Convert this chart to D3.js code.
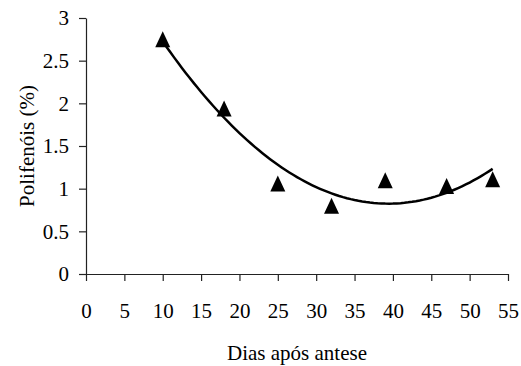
<!DOCTYPE html>
<html>
<head>
<meta charset="utf-8">
<script src="https://cdn.jsdelivr.net/npm/d3@7"></script>
<style>
  body { margin: 0; background: #fff; }
</style>
</head>
<body>
<svg id="chart" width="521" height="366"></svg>
<script>
// data
const dias = [10, 18, 25, 32, 39, 47, 53]
const polifenois = [2.75, 1.94, 1.06, 0.80, 1.10, 1.03, 1.11]
const xTicks = [0, 5, 10, 15, 20, 25, 30, 35, 40, 45, 50, 55]
const yTicks = [0, 0.5, 1, 1.5, 2, 2.5, 3]
const xTitle = 'Dias após antese'
const yTitle = 'Polifenóis (%)'

const svg = d3.select('#chart')
const fontSize = 21
const serif = "'Liberation Serif', 'Times New Roman', Times, serif"

const x = d3.scaleLinear().domain([0, 55]).range([86, 508])
const y = d3.scaleLinear().domain([0, 3]).range([274, 18])

// y axis
const yAxis = svg.append('g')
  .attr('transform', `translate(${x(0)},0)`)
  .call(d3.axisLeft(y).tickValues(yTicks).tickFormat(d3.format('')).tickSize(7).tickSizeOuter(0).tickPadding(10))

// x axis
const xAxis = svg.append('g')
  .attr('transform', `translate(0,${y(0)})`)
  .call(d3.axisBottom(x).tickValues(xTicks).tickFormat(d3.format('')).tickSize(7).tickSizeOuter(0).tickPadding(22))

svg.selectAll('g').attr('font-family', null).attr('font-size', null)
svg.selectAll('.tick text')
  .style('font-family', serif)
  .style('font-size', fontSize + 'px')
  .attr('fill', '#000')
svg.selectAll('.domain, .tick line').attr('stroke', '#222').attr('stroke-width', 1.2)

// quadratic trendline, least squares fit of the points
function quadFit(xs, ys) {
  const n = xs.length
  let s = [0, 0, 0, 0, 0], t = [0, 0, 0]
  for (let i = 0; i < n; i++) {
    for (let k = 0; k < 5; k++) s[k] += Math.pow(xs[i], k)
    for (let k = 0; k < 3; k++) t[k] += ys[i] * Math.pow(xs[i], k)
  }
  const m = [[s[0], s[1], s[2], t[0]], [s[1], s[2], s[3], t[1]], [s[2], s[3], s[4], t[2]]]
  for (let i = 0; i < 3; i++) {
    for (let j = i + 1; j < 3; j++) {
      const f = m[j][i] / m[i][i]
      for (let k = i; k < 4; k++) m[j][k] -= f * m[i][k]
    }
  }
  const c = [0, 0, 0]
  for (let i = 2; i >= 0; i--) {
    let v = m[i][3]
    for (let k = i + 1; k < 3; k++) v -= m[i][k] * c[k]
    c[i] = v / m[i][i]
  }
  return c
}

const coef = quadFit(dias, polifenois)
const trend = d3.range(dias[0], dias[dias.length - 1] + 0.01, 0.5)
  .map(d => [d, coef[0] + coef[1] * d + coef[2] * d * d])

// markers
const half = 7.5
svg.append('g').selectAll('path')
  .data(dias.map((d, i) => [d, polifenois[i]]))
  .join('path')
  .attr('d', d => {
    const cx = x(d[0]), cy = y(d[1])
    return `M${cx - half},${cy + 8}L${cx + half},${cy + 8}L${cx},${cy - 8}Z`
  })
  .attr('fill', '#000')

svg.append('path')
  .datum(trend)
  .attr('fill', 'none')
  .attr('stroke', '#000')
  .attr('stroke-width', 2.5)
  .attr('d', d3.line().x(d => x(d[0])).y(d => y(d[1])))

// titles
svg.append('text')
  .attr('x', (x(0) + x(55)) / 2)
  .attr('y', 360)
  .attr('text-anchor', 'middle')
  .style('font-family', serif)
  .style('font-size', fontSize + 'px')
  .text(xTitle)

svg.append('text')
  .attr('transform', `translate(34,${(y(0) + y(3)) / 2}) rotate(-90)`)
  .attr('text-anchor', 'middle')
  .style('font-family', serif)
  .style('font-size', fontSize + 'px')
  .text(yTitle)
</script>
</body>
</html>
